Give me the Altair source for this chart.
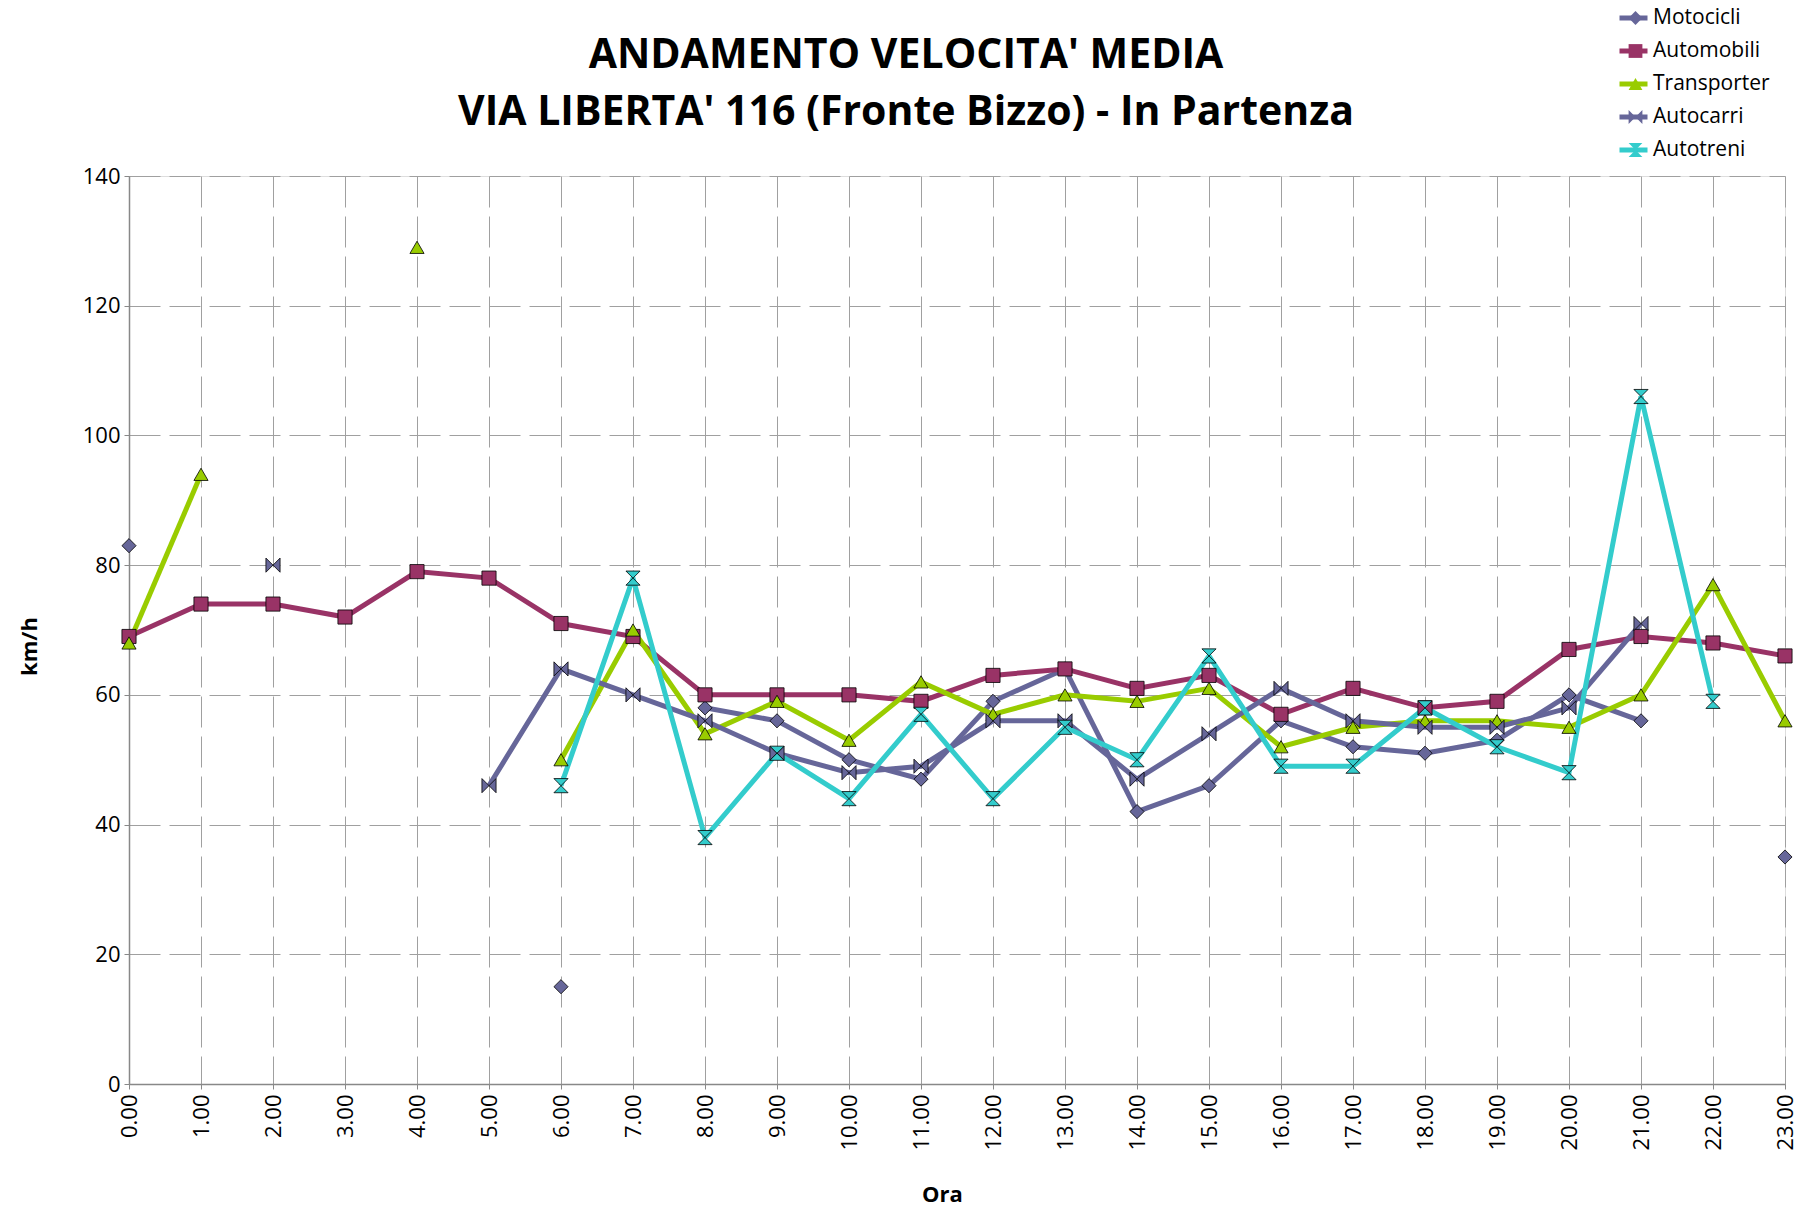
import altair as alt
import pandas as pd

# ---------------- data ----------------
hours = list(range(24))
series_names = ["Motocicli", "Automobili", "Transporter", "Autocarri", "Autotreni"]
N = None
motocicli = [83, N, N, N, N, N, 15, N, 58, 56, 50, 47, 59, 64, 42, 46, 56, 52, 51, 53, 60, 56, N, 35]
automobili = [69, 74, 74, 72, 79, 78, 71, 69, 60, 60, 60, 59, 63, 64, 61, 63, 57, 61, 58, 59, 67, 69, 68, 66]
transporter = [68, 94, N, N, 129, N, 50, 70, 54, 59, 53, 62, 57, 60, 59, 61, 52, 55, 56, 56, 55, 60, 77, 56]
autocarri = [N, N, 80, N, N, 46, 64, 60, 56, 51, 48, 49, 56, 56, 47, 54, 61, 56, 55, 55, 58, 71, N, N]
autotreni = [N, N, N, N, N, N, 46, 78, 38, 51, 44, 57, 44, 55, 50, 66, 49, 49, 58, 52, 48, 106, 59, N]
y_ticks = [0, 20, 40, 60, 80, 100, 120, 140]

series_colors = ["#666699", "#993366", "#99CC00", "#666699", "#33CCCC"]
BOWTIE = "M-1,-1L1,1L1,-1L-1,1Z"
HOURGLASS = "M-1,-1L1,-1L-1,1L1,1Z"
series_shapes = ["diamond", "square", "triangle-up", BOWTIE, HOURGLASS]

rows = []
for name, vals in zip(series_names, [motocicli, automobili, transporter, autocarri, autotreni]):
    seg = 0
    for h, v in zip(hours, vals):
        if v is None:
            seg += 1
            continue
        rows.append({"ora": h, "serie": name, "kmh": v, "tratto": f"{name}-{seg}"})
df = pd.DataFrame(rows)

FONT = "Open Sans"

x_enc = alt.X(
    "ora:Q",
    scale=alt.Scale(domain=[0, 23], nice=False, zero=False),
    axis=alt.Axis(
        values=hours,
        labelExpr="format(datum.value, '.2f')",
        labelAngle=270,
        labelFont=FONT, labelFontSize=22, labelColor="black", labelPadding=5,
        tickSize=5, tickColor="#888888",
        domainColor="#888888", domainWidth=1.5,
        grid=True, gridDash=[31, 9], gridColor="#a0a0a0", gridWidth=1,
        title="Ora", titleFont=FONT, titleFontSize=22, titleFontWeight="bold",
        titleColor="black", titleX=813, titleY=110, titleBaseline="middle", titleAlign="center",
    ),
)
y_enc = alt.Y(
    "kmh:Q",
    scale=alt.Scale(domain=[0, 140], nice=False),
    axis=alt.Axis(
        values=y_ticks,
        labelFont=FONT, labelFontSize=22, labelColor="black", labelPadding=4,
        tickSize=5, tickColor="#888888",
        domainColor="#888888", domainWidth=1.5,
        grid=True, gridDash=[31, 9], gridColor="#a0a0a0", gridWidth=1,
        title="km/h", titleFont=FONT, titleFontSize=22, titleFontWeight="bold",
        titleColor="black", titleX=-100, titleY=470, titleAngle=270,
        titleBaseline="middle", titleAlign="center",
    ),
)

# line legend (stroke symbols + visible labels)
lines = alt.Chart(df).mark_line(strokeWidth=5).encode(
    x=x_enc,
    y=y_enc,
    detail="tratto:N",
    color=alt.Color(
        "serie:N",
        sort=series_names,
        scale=alt.Scale(range=series_colors),
        legend=alt.Legend(
            title=None, orient="none", legendX=1488, legendY=-172,
            symbolType="stroke", symbolSize=784, symbolStrokeWidth=5,
            labelFont=FONT, labelFontSize=21, labelColor="black", labelOffset=3,
            clipHeight=28, rowPadding=5,
        ),
    ),
)

# marker legend (fill + shape merged, labels empty) drawn over the line legend
shape_legend = alt.Legend(
    title=None, orient="none", legendX=1496, legendY=-172,
    symbolSize=190, symbolStrokeColor="black", symbolStrokeWidth=0.8, symbolOpacity=1,
    labelFont=FONT, labelFontSize=21, labelOffset=3, labelExpr="''",
    clipHeight=28, rowPadding=5,
)

points = alt.Chart(df).mark_point(
    filled=True, size=200, stroke="black", strokeWidth=0.8, opacity=1
).encode(
    x="ora:Q",
    y="kmh:Q",
    fill=alt.Fill("serie:N", scale=alt.Scale(domain=series_names, range=series_colors), legend=shape_legend),
    shape=alt.Shape("serie:N", scale=alt.Scale(domain=series_names, range=series_shapes), legend=shape_legend),
)

chart = (
    alt.layer(lines, points)
    .properties(
        width=1656,
        height=908,
        autosize=alt.AutoSizeParams(type="none"),
        padding={"left": 121, "top": 168, "right": 14, "bottom": 124},
        title=alt.Title(
            text=["ANDAMENTO VELOCITA' MEDIA", "VIA LIBERTA' 116 (Fronte Bizzo) - In Partenza"],
            font=FONT, fontSize=41, fontWeight="bold", color="black",
            anchor="middle", frame="group", dx=-51, dy=130, offset=0, lineHeight=57,
        ),
    )
    .configure_view(stroke=None)
    .configure(background="white")
)

chart.save("out.html", embed_options={"renderer": "svg", "actions": False})
